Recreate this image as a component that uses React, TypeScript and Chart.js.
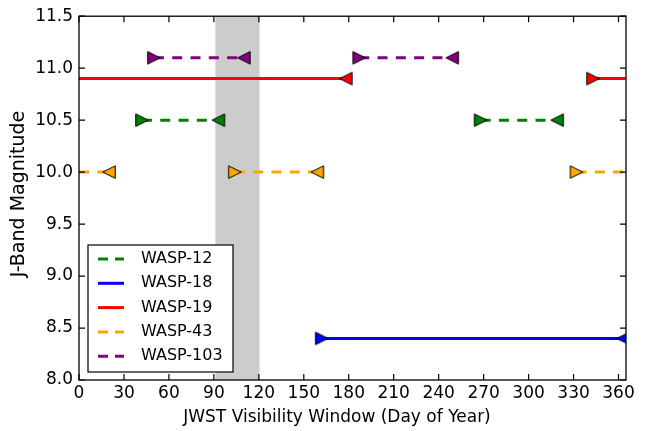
import React, { useEffect, useRef } from 'react';
import { Chart, registerables } from 'chart.js';

Chart.register(...registerables);

// ---- axis ranges and ticks ----
const X_MIN = 0;
const X_MAX = 365;
const Y_MIN = 8.0;
const Y_MAX = 11.5;
const X_TICKS = [0, 30, 60, 90, 120, 150, 180, 210, 240, 270, 300, 330, 360];
const Y_TICKS = [8.0, 8.5, 9.0, 9.5, 10.0, 10.5, 11.0, 11.5];
const Y_TICK_LABELS = ['8.0', '8.5', '9.0', '9.5', '10.0', '10.5', '11.0', '11.5'];
const X_TITLE = 'JWST Visibility Window (Day of Year)';
const Y_TITLE = 'J-Band Magnitude';

// ---- series ----
const STARS = ['WASP-12', 'WASP-18', 'WASP-19', 'WASP-43', 'WASP-103'];
const MAGNITUDES = [10.5, 8.4, 10.9, 10.0, 11.1];
const WASP12_WINDOWS = [[42, 93], [268, 319]];
const WASP18_WINDOWS = [[162, 363]];
const WASP19_WINDOWS = [[0, 178], [343, 365]];
const WASP43_WINDOWS = [[0, 20], [104, 159], [332, 365]];
const WASP103_WINDOWS = [[50, 110], [187, 249]];
const WINDOWS = [WASP12_WINDOWS, WASP18_WINDOWS, WASP19_WINDOWS, WASP43_WINDOWS, WASP103_WINDOWS];

// shaded band (days)
const BAND = [91, 120.5];

// ---- styles ----
const COLORS = ['#008000', '#0000ff', '#ff0000', '#ffa500', '#800080'];
const DASHED = [true, false, false, true, true];
const FONT = '"DejaVu Sans", sans-serif';

function triangle(color: string, dir: 'right' | 'left'): HTMLCanvasElement {
  const s = 16;
  const c = document.createElement('canvas');
  c.width = s;
  c.height = s;
  const ctx = c.getContext('2d')!;
  const h = 6.25;
  const cx = s / 2;
  const cy = s / 2;
  ctx.beginPath();
  if (dir === 'right') {
    ctx.moveTo(cx + h, cy);
    ctx.lineTo(cx - h, cy - h);
    ctx.lineTo(cx - h, cy + h);
  } else {
    ctx.moveTo(cx - h, cy);
    ctx.lineTo(cx + h, cy - h);
    ctx.lineTo(cx + h, cy + h);
  }
  ctx.closePath();
  ctx.fillStyle = color;
  ctx.fill();
  ctx.lineWidth = 1;
  ctx.strokeStyle = '#000';
  ctx.lineJoin = 'miter';
  ctx.stroke();
  return c;
}

export default function App() {
  const ref = useRef<HTMLCanvasElement>(null);

  useEffect(() => {
    const canvas = ref.current!;

    const datasets = STARS.map((name, i) => {
      const right = triangle(COLORS[i], 'right');
      const left = triangle(COLORS[i], 'left');
      const data: any[] = [];
      const styles: any[] = [];
      const radii: number[] = [];
      WINDOWS[i].forEach((w, k) => {
        if (k > 0) {
          const prev = WINDOWS[i][k - 1][1];
          data.push({ x: (prev + w[0]) / 2, y: null });
          styles.push(false);
          radii.push(0);
        }
        data.push({ x: w[0], y: MAGNITUDES[i] });
        styles.push(right);
        radii.push(w[0] === X_MIN || w[0] === X_MAX ? 0 : 6);
        data.push({ x: w[1], y: MAGNITUDES[i] });
        styles.push(left);
        radii.push(w[1] === X_MIN || w[1] === X_MAX ? 0 : 6);
      });
      return {
        label: name,
        data,
        borderColor: COLORS[i],
        backgroundColor: COLORS[i],
        borderWidth: 3,
        borderDash: DASHED[i] ? [10, 8.3] : [],
        pointStyle: styles,
        pointRadius: radii,
        pointHoverRadius: radii,
        spanGaps: false,
        clip: 0,
        tension: 0,
      };
    });

    const decor = {
      id: 'decor',
      beforeDatasetsDraw(chart: any) {
        const { ctx, chartArea, scales } = chart;
        const x0 = scales.x.getPixelForValue(BAND[0]);
        const x1 = scales.x.getPixelForValue(BAND[1]);
        ctx.save();
        ctx.fillStyle = '#cccccc';
        ctx.fillRect(x0, chartArea.top, x1 - x0, chartArea.bottom - chartArea.top);
        ctx.restore();
      },
      afterDatasetsDraw(chart: any) {
        const { ctx, chartArea: a, scales } = chart;
        ctx.save();
        ctx.strokeStyle = '#000';
        ctx.lineWidth = 1.2;
        const tl = 6;
        ctx.beginPath();
        X_TICKS.forEach((v) => {
          const px = scales.x.getPixelForValue(v);
          ctx.moveTo(px, a.bottom);
          ctx.lineTo(px, a.bottom - tl);
          ctx.moveTo(px, a.top);
          ctx.lineTo(px, a.top + tl);
        });
        Y_TICKS.forEach((v) => {
          const py = scales.y.getPixelForValue(v);
          ctx.moveTo(a.left, py);
          ctx.lineTo(a.left + tl, py);
          ctx.moveTo(a.right, py);
          ctx.lineTo(a.right - tl, py);
        });
        ctx.stroke();
        ctx.lineWidth = 1.3;
        ctx.strokeRect(a.left, a.top, a.right - a.left, a.bottom - a.top);

        // axis titles
        ctx.fillStyle = '#000';
        ctx.font = `17px ${FONT}`;
        ctx.textAlign = 'center';
        ctx.textBaseline = 'middle';
        ctx.fillText(X_TITLE, 337, 418);
        ctx.save();
        ctx.translate(19, 194);
        ctx.rotate(-Math.PI / 2);
        ctx.font = `19px ${FONT}`;
        ctx.fillText(Y_TITLE, 0, 0);
        ctx.restore();

        // legend
        const lx = 88, ly = 245, lw = 145, lh = 127;
        ctx.fillStyle = '#ffffff';
        ctx.fillRect(lx, ly, lw, lh);
        ctx.lineWidth = 1.2;
        ctx.strokeStyle = '#000';
        ctx.strokeRect(lx, ly, lw, lh);
        STARS.forEach((name, i) => {
          const cy = 259 + i * 24.3;
          ctx.beginPath();
          ctx.strokeStyle = COLORS[i];
          ctx.lineWidth = 3;
          ctx.setLineDash(DASHED[i] ? [10, 7] : []);
          ctx.moveTo(98, cy);
          ctx.lineTo(124, cy);
          ctx.stroke();
          ctx.setLineDash([]);
          ctx.fillStyle = '#000';
          ctx.font = `16px ${FONT}`;
          ctx.textAlign = 'left';
          ctx.textBaseline = 'middle';
          ctx.fillText(name, 141, cy);
        });
        ctx.restore();
      },
    };

    const chart = new Chart(canvas, {
      type: 'line',
      data: { datasets },
      options: {
        animation: false,
        responsive: false,
        devicePixelRatio: 1,
        layout: { padding: { top: 15, right: 23, left: 0, bottom: 0 } },
        plugins: {
          legend: { display: false },
          tooltip: { enabled: false },
        },
        events: [],
        scales: {
          x: {
            type: 'linear',
            min: X_MIN,
            max: X_MAX,
            grid: { display: false, drawTicks: false },
            border: { display: false },
            afterBuildTicks: (s: any) => {
              s.ticks = X_TICKS.map((v) => ({ value: v }));
            },
            afterFit: (s: any) => {
              s.height = 51;
            },
            ticks: {
              autoSkip: false,
              maxRotation: 0,
              padding: 3,
              color: '#000',
              font: { family: FONT, size: 17 },
              callback: (v: any) => String(v),
            },
          },
          y: {
            type: 'linear',
            min: Y_MIN,
            max: Y_MAX,
            grid: { display: false, drawTicks: false },
            border: { display: false },
            afterBuildTicks: (s: any) => {
              s.ticks = Y_TICKS.map((v) => ({ value: v }));
            },
            afterFit: (s: any) => {
              s.width = 79;
            },
            ticks: {
              autoSkip: false,
              padding: 6,
              color: '#000',
              font: { family: FONT, size: 17 },
              callback: (v: any) => {
                const idx = Y_TICKS.findIndex((t) => Math.abs(t - v) < 1e-6);
                return idx >= 0 ? Y_TICK_LABELS[idx] : '';
              },
            },
          },
        },
      },
      plugins: [decor],
    });

    return () => chart.destroy();
  }, []);

  return (
    <div style={{ position: 'fixed', left: 0, top: 0, width: 649, height: 431, background: '#fff' }}>
      <canvas ref={ref} width={649} height={431} style={{ width: 649, height: 431, display: 'block' }} />
    </div>
  );
}
